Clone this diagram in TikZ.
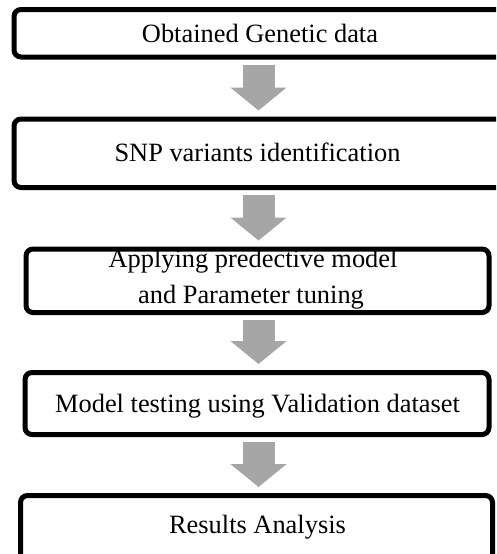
\documentclass[tikz,border=0pt]{standalone}
\usepackage{fontspec}
\setmainfont{Liberation Serif}
\usetikzlibrary{arrows.meta}
\definecolor{arrowgray}{RGB}{166,166,166}
\begin{document}
\begin{tikzpicture}[x=1pt,y=-1pt,
  stepbox/.style={draw,line width=5pt,rounded corners=7pt,inner sep=0pt},
  steptext/.style={anchor=base,inner sep=0pt,font=\fontsize{26.4}{36}\selectfont},
  flow/.style={draw=arrowgray,line width=32pt,-{Triangle[length=23pt,width=55pt]},shorten <=5pt,shorten >=6pt}]
\useasboundingbox (0,0) rectangle (496,554);
\clip (0,0) rectangle (496,554);

\node[stepbox,minimum width=506pt,minimum height=47.5pt] (b1) at (267,33.25) {};
\node[stepbox,minimum width=506pt,minimum height=68.5pt] (b2) at (267,153.25) {};
\node[stepbox,minimum width=463pt,minimum height=63.5pt] (b3) at (257.5,280.75) {};
\node[stepbox,minimum width=464pt,minimum height=62pt] (b4) at (257,403.5) {};
\node[stepbox,minimum width=472pt,minimum height=79.5pt] (b5) at (256.5,535.25) {};

\node[steptext] (t1) at (260,42) {Obtained Genetic data};
\node[steptext] (t2) at (257.5,161) {SNP variants identification};
\node[steptext] (t3) at (253,267) {Applying predective model};
\node[steptext] (t4) at (251,303) {and Parameter tuning};
\node[steptext] (t5) at (257.5,412) {Model testing using Validation dataset};
\node[steptext] (t6) at (257.5,533) {Results Analysis};

\coordinate (col) at (258.5,0);
\draw[flow] (b1.south -| col) -- (b2.north -| col);
\draw[flow] (b2.south -| col) -- (b3.north -| col);
\draw[flow] (b3.south -| col) -- (b4.north -| col);
\draw[flow] (b4.south -| col) -- (b5.north -| col);

\end{tikzpicture}
\end{document}
